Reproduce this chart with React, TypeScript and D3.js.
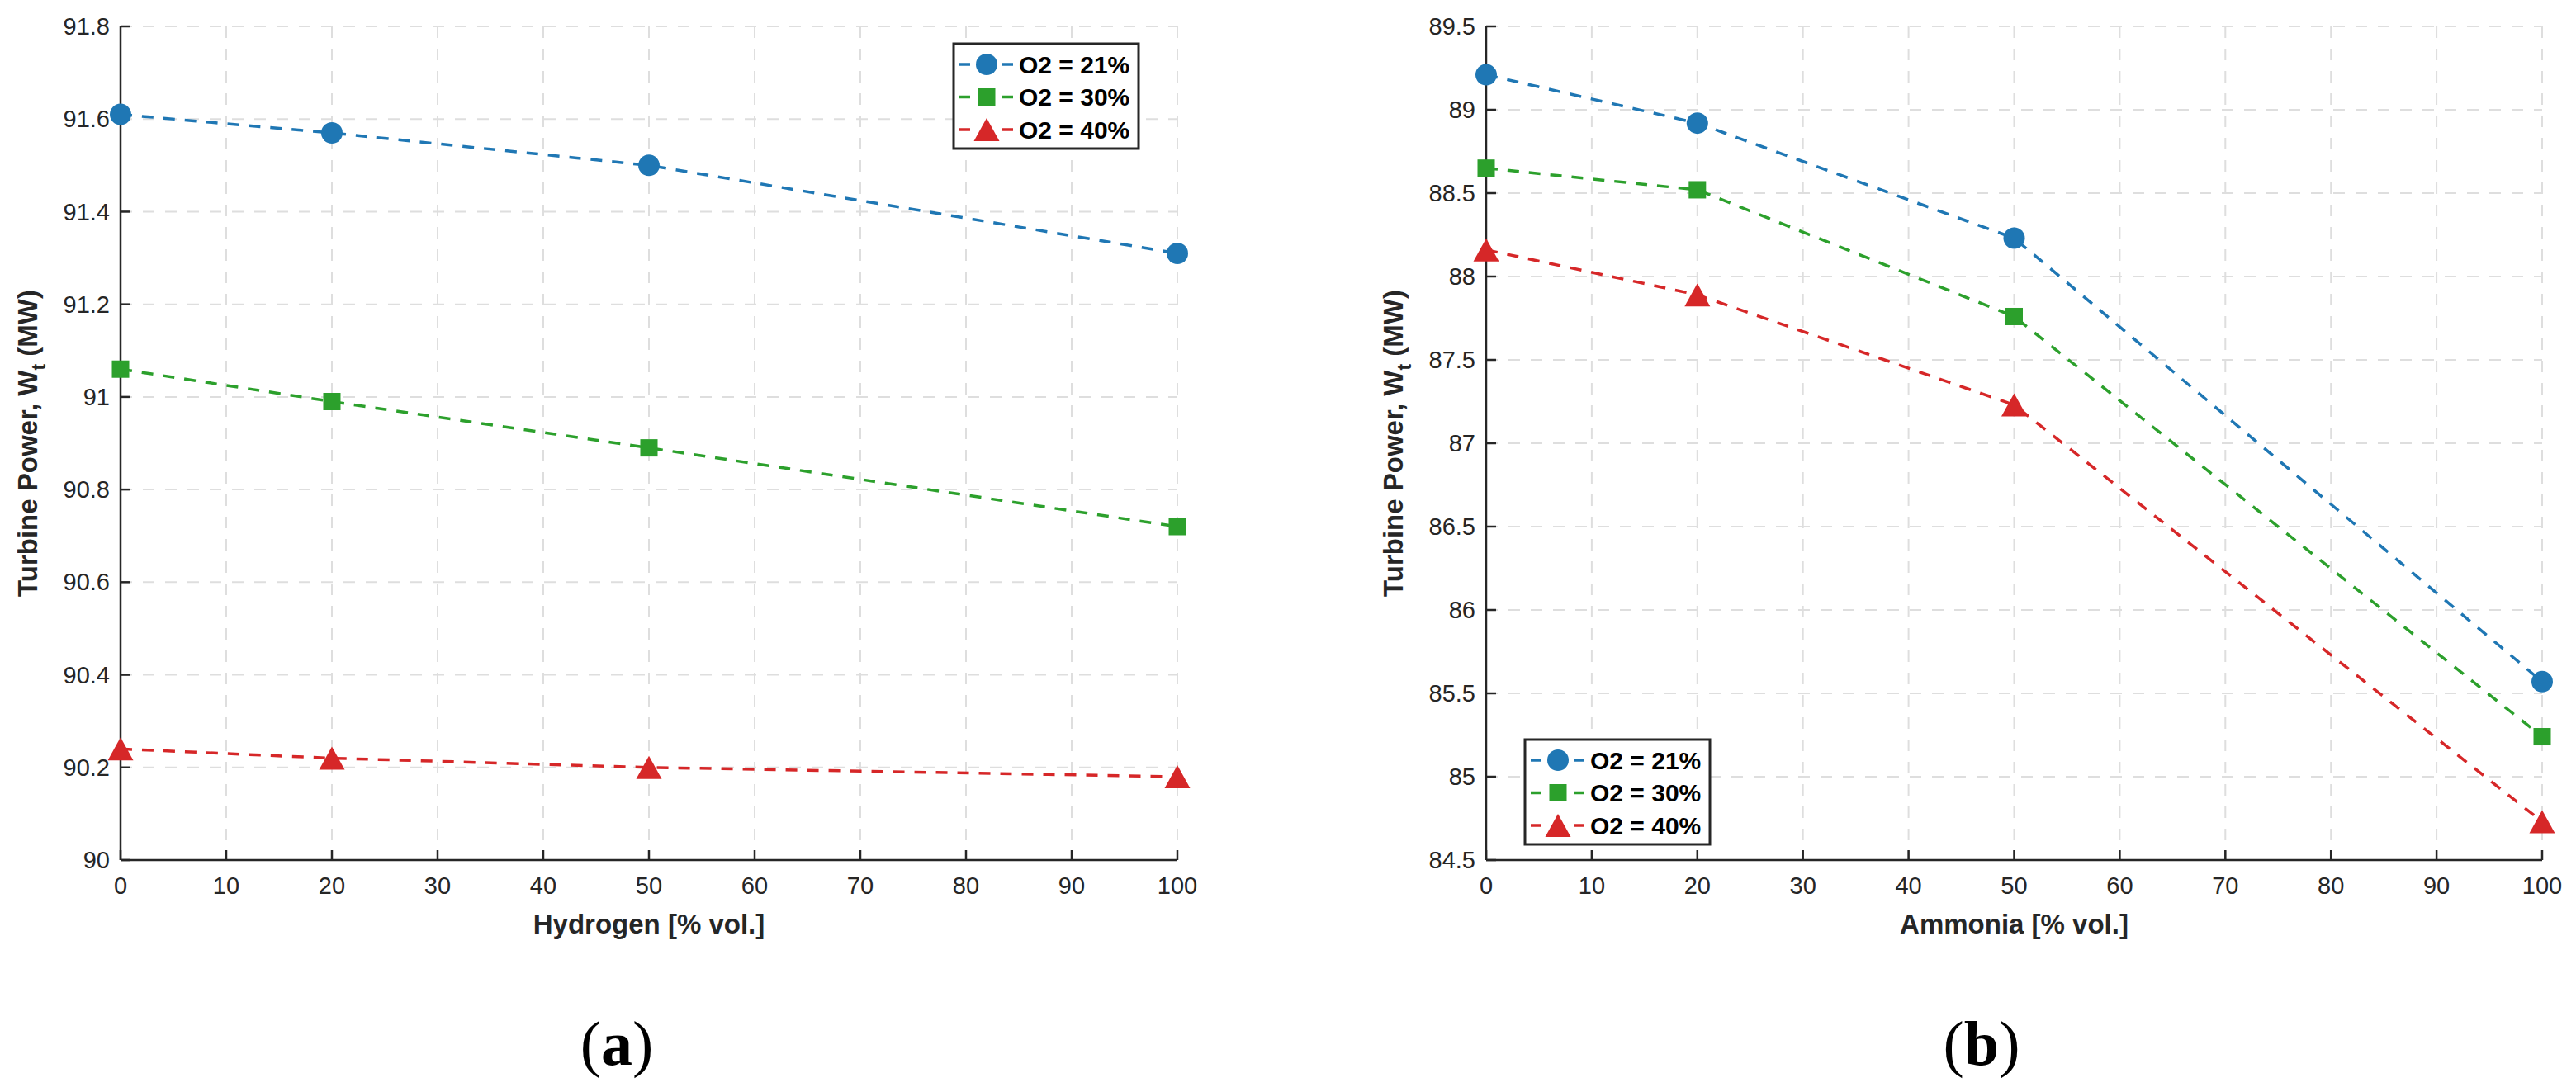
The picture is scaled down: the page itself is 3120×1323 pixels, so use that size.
import React from "react";
import * as d3 from "d3";

// x positions shared by both panels (% vol. of fuel additive)
const fuelShare = [0, 20, 50, 100];

const seriesLabels = ["O2 = 21%", "O2 = 30%", "O2 = 40%"];
const seriesColors = ["#1f77b4", "#2ca02c", "#d62728"];
const seriesMarkers = ["circle", "square", "triangle"];

// panel (a): hydrogen
const hydrogenO2_21 = [91.61, 91.57, 91.5, 91.31];
const hydrogenO2_30 = [91.06, 90.99, 90.89, 90.72];
const hydrogenO2_40 = [90.24, 90.22, 90.2, 90.18];

// panel (b): ammonia
const ammoniaO2_21 = [89.21, 88.92, 88.23, 85.57];
const ammoniaO2_30 = [88.65, 88.52, 87.76, 85.24];
const ammoniaO2_40 = [88.16, 87.89, 87.23, 84.73];

const xTicks = [0, 10, 20, 30, 40, 50, 60, 70, 80, 90, 100];
const hydrogenYTicks = [90, 90.2, 90.4, 90.6, 90.8, 91, 91.2, 91.4, 91.6, 91.8];
const ammoniaYTicks = [84.5, 85, 85.5, 86, 86.5, 87, 87.5, 88, 88.5, 89, 89.5];

const AXIS = "#262626";
const GRID = "#dedede";
const SANS = "Arial, 'Liberation Sans', Helvetica, sans-serif";
const SERIF = "'Times New Roman', 'Liberation Serif', serif";

function Marker({ kind, color, x, y }: { kind: string; color: string; x: number; y: number }) {
  if (kind === "circle") return <circle cx={x} cy={y} r={13} fill={color} />;
  if (kind === "square") return <rect x={x - 10.5} y={y - 10.5} width={21} height={21} fill={color} />;
  return <path d={`M${x},${y - 14}L${x + 15.5},${y + 14}L${x - 15.5},${y + 14}Z`} fill={color} />;
}

interface PanelProps {
  left: number;
  right: number;
  yDomain: [number, number];
  yTicks: number[];
  series: number[][];
  xLabel: string;
  tag: string;
  tagX: number;
  legendX: number;
  legendY: number;
}

function Panel({ left, right, yDomain, yTicks, series, xLabel, tag, tagX, legendX, legendY }: PanelProps) {
  const top = 32;
  const bottom = 1042;
  const x = d3.scaleLinear().domain([0, 100]).range([left, right]);
  const y = d3.scaleLinear().domain(yDomain).range([bottom, top]);
  const line = d3
    .line<number>()
    .x((_, i) => x(fuelShare[i]))
    .y((d) => y(d));
  const fmt = (v: number) => String(+v.toFixed(1));
  const midY = (top + bottom) / 2;

  return (
    <g>
      {/* grid */}
      {xTicks.map((t) => (
        <line key={"gx" + t} x1={x(t)} x2={x(t)} y1={top} y2={bottom} stroke={GRID} strokeWidth={2} strokeDasharray="14 13" />
      ))}
      {yTicks.map((t) => (
        <line key={"gy" + t} x1={left} x2={right} y1={y(t)} y2={y(t)} stroke={GRID} strokeWidth={2} strokeDasharray="14 13" />
      ))}

      {/* axes */}
      <line x1={left} x2={left} y1={top} y2={bottom} stroke={AXIS} strokeWidth={2.5} />
      <line x1={left} x2={right} y1={bottom} y2={bottom} stroke={AXIS} strokeWidth={2.5} />
      {xTicks.map((t) => (
        <g key={"tx" + t}>
          <line x1={x(t)} x2={x(t)} y1={bottom} y2={bottom - 12} stroke={AXIS} strokeWidth={2.5} />
          <text x={x(t)} y={1083} textAnchor="middle" fontFamily={SANS} fontSize={29} fill={AXIS}>
            {t}
          </text>
        </g>
      ))}
      {yTicks.map((t) => (
        <g key={"ty" + t}>
          <line x1={left} x2={left + 12} y1={y(t)} y2={y(t)} stroke={AXIS} strokeWidth={2.5} />
          <text x={left - 13} y={y(t)} dy="0.35em" textAnchor="end" fontFamily={SANS} fontSize={29} fill={AXIS}>
            {fmt(t)}
          </text>
        </g>
      ))}

      {/* axis labels */}
      <text x={(left + right) / 2} y={1131} textAnchor="middle" fontFamily={SANS} fontWeight="bold" fontSize={33} fill={AXIS}>
        {xLabel}
      </text>
      <text
        transform={`translate(${left - 101},${midY}) rotate(-90)`}
        textAnchor="middle"
        fontFamily={SANS}
        fontWeight="bold"
        fontSize={33}
        fill={AXIS}
      >
        Turbine Power, W
        <tspan fontSize={23} dy={10}>t</tspan>
        <tspan dy={-10}> (MW)</tspan>
      </text>

      {/* series */}
      {series.map((vals, s) => (
        <g key={"s" + s}>
          <path d={line(vals) ?? ""} fill="none" stroke={seriesColors[s]} strokeWidth={3.5} strokeDasharray="14 12" />
          {vals.map((v, i) => (
            <Marker key={i} kind={seriesMarkers[s]} color={seriesColors[s]} x={x(fuelShare[i])} y={y(v)} />
          ))}
        </g>
      ))}

      {/* legend */}
      <g transform={`translate(${legendX},${legendY})`}>
        <rect x={0} y={0} width={224} height={127} fill="#fff" stroke={AXIS} strokeWidth={3} />
        {seriesLabels.map((lab, s) => {
          const ry = 25 + s * 39.5;
          return (
            <g key={lab}>
              <line x1={7} x2={72} y1={ry} y2={ry} stroke={seriesColors[s]} strokeWidth={3.5} strokeDasharray="13 39 13" />
              <Marker kind={seriesMarkers[s]} color={seriesColors[s]} x={40} y={ry} />
              <text x={79} y={ry} dy="0.36em" fontFamily={SANS} fontWeight="bold" fontSize={30} fill="#000">
                {lab}
              </text>
            </g>
          );
        })}
      </g>

      {/* sub-figure tag */}
      <text x={tagX} y={1290} textAnchor="middle" fontFamily={SERIF} fontSize={76} fill="#000">
        (<tspan fontWeight="bold">{tag}</tspan>)
      </text>
    </g>
  );
}

export default function App() {
  return (
    <svg
      width={3120}
      height={1323}
      viewBox="0 0 3120 1323"
      style={{ position: "absolute", left: 0, top: 0, background: "#fff" }}
    >
      <rect width={3120} height={1323} fill="#fff" />
      <Panel
        left={146}
        right={1426}
        yDomain={[90, 91.8]}
        yTicks={hydrogenYTicks}
        series={[hydrogenO2_21, hydrogenO2_30, hydrogenO2_40]}
        xLabel="Hydrogen [% vol.]"
        tag="a"
        tagX={747}
        legendX={1155}
        legendY={53}
      />
      <Panel
        left={1800}
        right={3079}
        yDomain={[84.5, 89.5]}
        yTicks={ammoniaYTicks}
        series={[ammoniaO2_21, ammoniaO2_30, ammoniaO2_40]}
        xLabel="Ammonia [% vol.]"
        tag="b"
        tagX={2400}
        legendX={1847}
        legendY={896}
      />
    </svg>
  );
}
